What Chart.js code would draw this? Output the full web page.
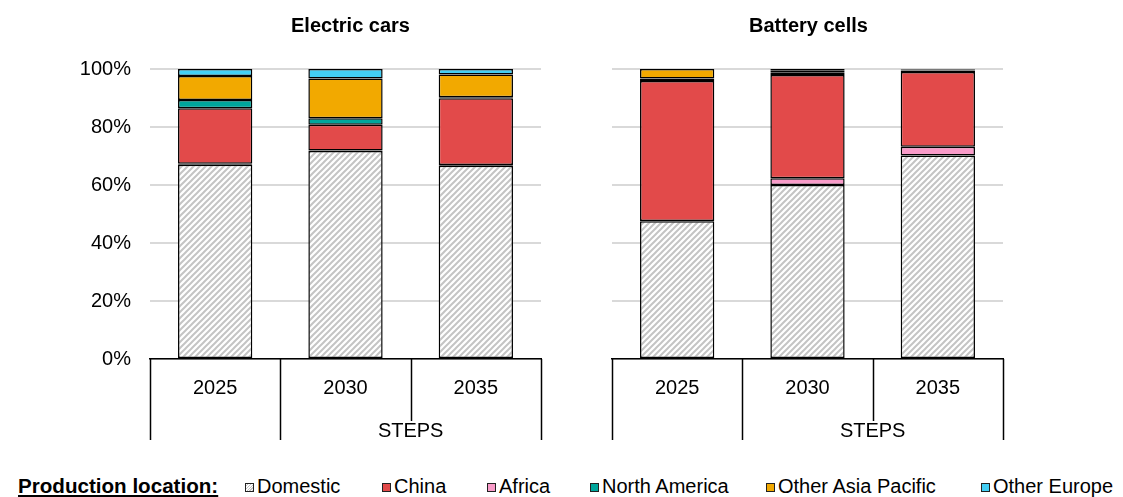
<!DOCTYPE html>
<html>
<head>
<meta charset="utf-8">
<script src="https://cdn.jsdelivr.net/npm/chart.js@4/dist/chart.umd.min.js"></script>
<style>
  body { margin: 0; background: #fff; width: 1123px; height: 497px; position: relative; overflow: hidden;
         font-family: "Liberation Sans", Arial, sans-serif; }
  #cars { position: absolute; left: 0; top: 0; }
  #cells { position: absolute; left: 560px; top: 0; }
  .leg { position: absolute; top: 474px; font-size: 20px; line-height: 24px; color: #000; white-space: nowrap; }
  .leg .mk { display: inline-block; width: 7px; height: 7px; border: 1.5px solid #222; margin-right: 3px; vertical-align: 1px; }
  .leg.head { font-weight: bold; text-decoration: underline; font-size: 20.6px; }
</style>
</head>
<body>
<canvas id="cars" width="560" height="450"></canvas>
<canvas id="cells" width="563" height="450"></canvas>

<div class="leg head" style="left:18px">Production location:</div>
<div class="leg" style="left:245px"><span class="mk" id="mkDom"></span>Domestic</div>
<div class="leg" style="left:382px"><span class="mk" style="background:#E24A4A"></span>China</div>
<div class="leg" style="left:487px"><span class="mk" style="background:#F99BC9"></span>Africa</div>
<div class="leg" style="left:590px"><span class="mk" style="background:#00A69C"></span>North America</div>
<div class="leg" style="left:766px"><span class="mk" style="background:#F2A900"></span>Other Asia Pacific</div>
<div class="leg" style="left:981px"><span class="mk" style="background:#43CFF5"></span>Other Europe</div>

<script>
// categories / scenario
var years = ["2025", "2030", "2035"];
var scenario = "STEPS";
var yTicks = [0, 20, 40, 60, 80, 100];

// Electric cars (share of production, %)
var carsDomestic = [67.0, 71.7, 66.6];
var carsAfrica = [0.3, 0.2, 0.3];
var carsChina = [19.2, 8.9, 23.0];
var carsNorthAmerica = [2.8, 2.2, 0.4];
var carsOtherAsia = [8.3, 13.7, 7.8];
var carsOtherEurope = [2.4, 3.3, 1.9];

// Battery cells (share of production, %)
var cellsDomestic = [47.5, 60.0, 70.2];
var cellsAfrica = [0.1, 2.3, 3.0];
var cellsChina = [48.3, 35.6, 25.8];
var cellsNorthAmerica = [0.8, 1.0, 0.5];
var cellsOtherAsia = [3.3, 0.5, 0.3];
var cellsOtherEurope = [0.0, 0.6, 0.2];

var FONT = '"Liberation Sans", Arial, sans-serif';

// hatch for domestic
function makeHatch() {
  var c = document.createElement('canvas');
  c.width = 6; c.height = 6;
  var g = c.getContext('2d');
  g.fillStyle = '#fff';
  g.fillRect(0, 0, 6, 6);
  g.strokeStyle = '#c4c4c4';
  g.lineWidth = 2;
  g.beginPath();
  g.moveTo(-1, 7); g.lineTo(7, -1);
  g.moveTo(-4, 4); g.lineTo(4, -4);
  g.moveTo(2, 10); g.lineTo(10, 2);
  g.stroke();
  return g.createPattern(c, 'repeat');
}
var hatch = makeHatch();
document.getElementById('mkDom').style.background =
  'repeating-linear-gradient(135deg,#fff 0 1px,#c4c4c4 1px 2px)';

// stacking order follows the picture: Africa sits between domestic and China
function sets(dom, afr, chn, na, oap, oe) {
  var base = { borderColor: '#000', borderWidth: 1.5, borderSkipped: false,
               barPercentage: 0.57, categoryPercentage: 1 };
  return [
    Object.assign({ label: 'Domestic', data: dom, backgroundColor: hatch }, base),
    Object.assign({ label: 'Africa', data: afr, backgroundColor: '#F99BC9' }, base),
    Object.assign({ label: 'China', data: chn, backgroundColor: '#E24A4A' }, base),
    Object.assign({ label: 'North America', data: na, backgroundColor: '#00A69C' }, base),
    Object.assign({ label: 'Other Asia Pacific', data: oap, backgroundColor: '#F2A900' }, base),
    Object.assign({ label: 'Other Europe', data: oe, backgroundColor: '#43CFF5' }, base)
  ];
}

// title + two-level category axis
var decor = {
  id: 'decor',
  afterDraw: function (chart) {
    var ctx = chart.ctx;
    var a = chart.chartArea;
    var n = years.length;
    var w = (a.right - a.left) / n;
    var o = chart.options.plugins.decor;
    ctx.save();
    ctx.fillStyle = '#000';
    ctx.font = 'bold 20px ' + FONT;
    ctx.textAlign = 'center';
    ctx.textBaseline = 'middle';
    ctx.fillText(o.title, (a.left + a.right) / 2 + o.shift, 26);

    ctx.strokeStyle = '#000';
    ctx.lineWidth = 1.5;
    for (var i = 0; i <= n; i++) {
      var x = Math.round(a.left + i * w) + 0.5;
      var len = (i == 2) ? 62 : 81;
      ctx.beginPath();
      ctx.moveTo(x, a.bottom);
      ctx.lineTo(x, a.bottom + len);
      ctx.stroke();
    }
    ctx.font = '20px ' + FONT;
    ctx.fillText(scenario, a.left + w + (a.right - a.left - w) / 2, a.bottom + 72);
    ctx.restore();
  }
};

function makeChart(id, title, shift, data, showY, yWidth, padRight) {
  return new Chart(document.getElementById(id).getContext('2d'), {
    type: 'bar',
    data: { labels: years, datasets: data },
    options: {
      responsive: false,
      animation: false,
      layout: { padding: { top: 69, right: padRight, bottom: 10, left: 0 } },
      plugins: {
        legend: { display: false },
        tooltip: { enabled: false },
        decor: { title: title, shift: shift }
      },
      scales: {
        x: {
          stacked: true,
          grid: { display: false, drawTicks: false },
          border: { display: true, color: '#000', width: 1.5 },
          ticks: { color: '#000', font: { family: FONT, size: 20 }, padding: 17, maxRotation: 0 },
          afterFit: function (s) { s.height = 81; }
        },
        y: {
          stacked: true,
          min: 0, max: 100,
          afterBuildTicks: function (s) { s.ticks = yTicks.map(function (v) { return { value: v }; }); },
          grid: { color: '#d9d9d9', lineWidth: 2, drawTicks: false },
          border: { display: false },
          ticks: {
            display: showY,
            color: '#000', font: { family: FONT, size: 20 }, padding: 19,
            callback: function (v) { return v + '%'; }
          },
          afterFit: function (s) { s.width = yWidth; }
        }
      }
    },
    plugins: [decor]
  });
}

makeChart('cars', 'Electric cars', 5,
  sets(carsDomestic, carsAfrica, carsChina, carsNorthAmerica, carsOtherAsia, carsOtherEurope),
  true, 150, 19);
makeChart('cells', 'Battery cells', 1,
  sets(cellsDomestic, cellsAfrica, cellsChina, cellsNorthAmerica, cellsOtherAsia, cellsOtherEurope),
  false, 52, 120);
</script>
</body>
</html>
